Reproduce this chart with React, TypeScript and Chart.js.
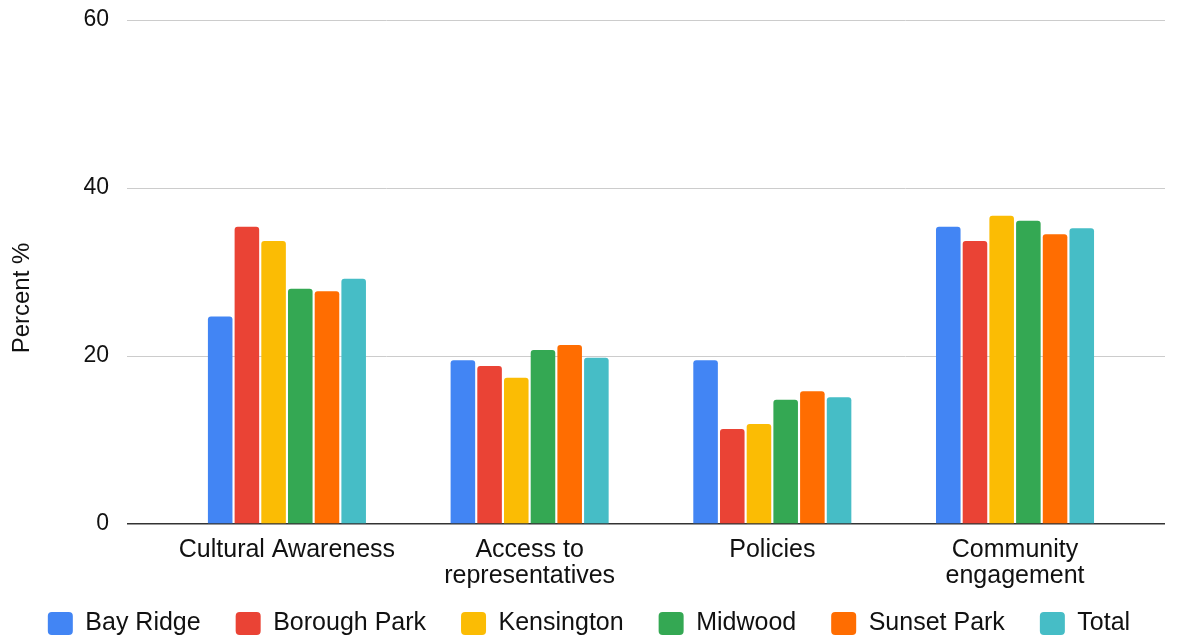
import React, { useEffect, useRef } from "react";
import { Chart, registerables } from "chart.js";

Chart.register(...registerables);

const categories: string[][] = [
  ["Cultural Awareness"],
  ["Access to", "representatives"],
  ["Policies"],
  ["Community", "engagement"],
];

const bayRidge = [24.7, 19.5, 19.5, 35.4];
const boroughPark = [35.4, 18.8, 11.3, 33.7];
const kensington = [33.7, 17.4, 11.9, 36.7];
const midwood = [28.0, 20.7, 14.8, 36.1];
const sunsetPark = [27.7, 21.3, 15.8, 34.5];
const total = [29.2, 19.8, 15.1, 35.2];

const seriesNames = ["Bay Ridge", "Borough Park", "Kensington", "Midwood", "Sunset Park", "Total"];
const seriesValues = [bayRidge, boroughPark, kensington, midwood, sunsetPark, total];
const seriesColors = ["#4285F4", "#EA4335", "#FBBC04", "#34A853", "#FF6D01", "#46BDC6"];

const yTicks = [0, 20, 40, 60];
const yTitle = "Percent %";

const FONT = "Liberation Sans, Arial, Helvetica, sans-serif";

const yTitlePlugin = {
  id: "yTitlePlugin",
  afterLayout(chart: any) {
    // let the category labels overflow into the legend's empty top band
    if (chart.scales.x) chart.scales.x.bottom = chart.height;
  },
  afterDraw(chart: any) {
    const { ctx, chartArea } = chart;
    const cy = (chartArea.top + chartArea.bottom) / 2 + 26;
    ctx.save();
    ctx.translate(22, cy);
    ctx.rotate(-Math.PI / 2);
    ctx.font = `24px ${FONT}`;
    ctx.fillStyle = "#111";
    ctx.textAlign = "center";
    ctx.textBaseline = "middle";
    ctx.fillText(yTitle, 0, 0);
    ctx.restore();
  },
};

export default function App() {
  const ref = useRef<HTMLCanvasElement | null>(null);

  useEffect(() => {
    if (!ref.current) return;
    const chart = new Chart(ref.current, {
      type: "bar",
      data: {
        datasets: seriesNames.map((name, s) => ({
          label: name,
          data: seriesValues[s].map((v, i) => ({ x: i, y: v })),
          backgroundColor: seriesColors[s],
          borderRadius: { topLeft: 3, topRight: 3, bottomLeft: 0, bottomRight: 0 },
          borderSkipped: "bottom",
          categoryPercentage: 0.66,
          barPercentage: 0.92,
        })),
      },
      plugins: [yTitlePlugin],
      options: {
        animation: false,
        responsive: false,
        maintainAspectRatio: false,
        layout: { padding: { left: 0, right: 0, top: 20, bottom: -6 } },
        plugins: {
          tooltip: { enabled: false },
          legend: {
            position: "bottom",
            labels: {
              color: "#111",
              font: { family: FONT, size: 25 },
              boxWidth: 25,
              boxHeight: 23,
              padding: 35,
              useBorderRadius: true,
              borderRadius: 4,
            },
          },
        },
        scales: {
          x: {
            type: "linear",
            min: -0.659,
            max: 3.618,
            offset: false,
            grid: { display: false },
            border: { display: false },
            afterBuildTicks: (scale: any) => {
              scale.ticks = categories.map((_, i) => ({ value: i }));
            },
            afterFit: (scale: any) => {
              scale.height = 52;
              scale.paddingLeft = 0;
              scale.paddingRight = 13;
            },
            ticks: {
              autoSkip: false,
              maxRotation: 0,
              padding: 5,
              color: "#111",
              font: { family: FONT, size: 25, lineHeight: 1.04 },
              callback: (value: any) => categories[Number(value)] ?? "",
            },
          },
          y: {
            min: 0,
            max: 60,
            afterBuildTicks: (scale: any) => {
              scale.ticks = yTicks.map((v) => ({ value: v }));
            },
            afterFit: (scale: any) => {
              scale.width = 127;
              scale.paddingTop = 0;
              scale.paddingBottom = 0;
            },
            grid: {
              drawTicks: false,
              color: (ctx: any) => (ctx.tick && ctx.tick.value === 0 ? "#333" : "#cccccc"),
              lineWidth: (ctx: any) => (ctx.tick && ctx.tick.value === 0 ? 1.5 : 1),
            },
            border: { display: false },
            ticks: {
              padding: 18,
              color: "#111",
              font: { family: FONT, size: 23 },
            },
          },
        },
      },
    });
    return () => chart.destroy();
  }, []);

  return (
    <div style={{ position: "absolute", left: 0, top: 0, width: 1178, height: 640, background: "#fff" }}>
      <canvas ref={ref} width={1178} height={640} style={{ width: 1178, height: 640 }} />
    </div>
  );
}
